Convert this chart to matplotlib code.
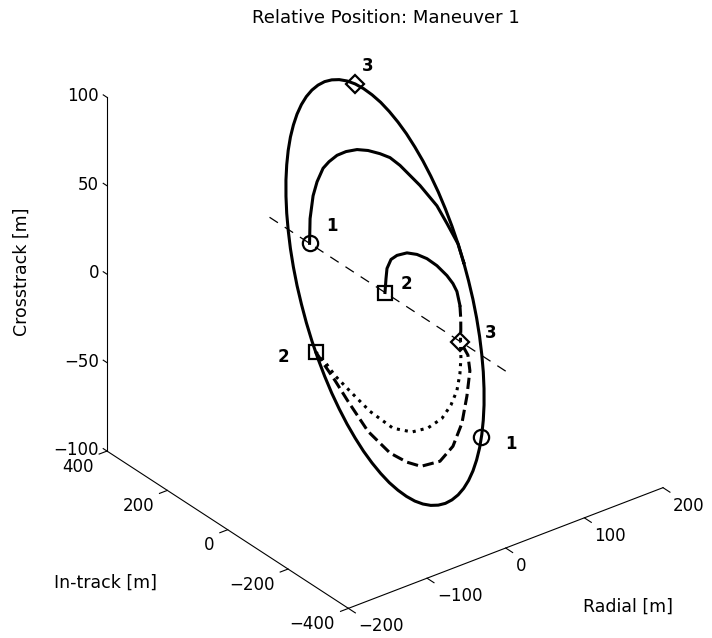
import numpy as np
import matplotlib
matplotlib.use("Agg")
import matplotlib.pyplot as plt
from mpl_toolkits.mplot3d import proj3d

plt.rcParams["font.family"] = ["DejaVu Sans"]

W_PX, H_PX = 712, 638

# ---- axes ----
x_ticks = [-200, -100, 0, 100, 200]
y_ticks = [-400, -200, 0, 200, 400]
z_ticks = [-100, -50, 0, 50, 100]

# ---- natural-motion ellipse around the target [m] ----
orbit_x = [100, 99.6, 98.5, 96.6, 94.0, 90.6, 86.6, 81.9, 76.6, 70.7, 64.3, 57.4, 50.0,
           42.3, 34.2, 25.9, 17.4, 8.7, 0, -8.7, -17.4, -25.9, -34.2, -42.3, -50.0, -57.4,
           -64.3, -70.7, -76.6, -81.9, -86.6, -90.6, -94.0, -96.6, -98.5, -99.6, -100,
           -99.6, -98.5, -96.6, -94.0, -90.6, -86.6, -81.9, -76.6, -70.7, -64.3, -57.4,
           -50.0, -42.3, -34.2, -25.9, -17.4, -8.7, 0, 8.7, 17.4, 25.9, 34.2, 42.3, 50.0,
           57.4, 64.3, 70.7, 76.6, 81.9, 86.6, 90.6, 94.0, 96.6, 98.5, 99.6, 100]
orbit_y = [0, -17.4, -34.7, -51.8, -68.4, -84.5, -100, -114.7, -128.6, -141.4, -153.2,
           -163.8, -173.2, -181.3, -187.9, -193.2, -197.0, -199.2, -200, -199.2, -197.0,
           -193.2, -187.9, -181.3, -173.2, -163.8, -153.2, -141.4, -128.6, -114.7, -100,
           -84.5, -68.4, -51.8, -34.7, -17.4, 0, 17.4, 34.7, 51.8, 68.4, 84.5, 100, 114.7,
           128.6, 141.4, 153.2, 163.8, 173.2, 181.3, 187.9, 193.2, 197.0, 199.2, 200, 199.2,
           197.0, 193.2, 187.9, 181.3, 173.2, 163.8, 153.2, 141.4, 128.6, 114.7, 100, 84.5,
           68.4, 51.8, 34.7, 17.4, 0]
orbit_z = [0, -8.5, -16.8, -25.1, -33.2, -41.0, -48.5, -55.6, -62.4, -68.6, -74.3, -79.5,
           -84.0, -87.9, -91.2, -93.7, -95.5, -96.6, -97.0, -96.6, -95.5, -93.7, -91.2,
           -87.9, -84.0, -79.5, -74.3, -68.6, -62.4, -55.6, -48.5, -41.0, -33.2, -25.1,
           -16.8, -8.5, 0, 8.5, 16.8, 25.1, 33.2, 41.0, 48.5, 55.6, 62.4, 68.6, 74.3, 79.5,
           84.0, 87.9, 91.2, 93.7, 95.5, 96.6, 97.0, 96.6, 95.5, 93.7, 91.2, 87.9, 84.0,
           79.5, 74.3, 68.6, 62.4, 55.6, 48.5, 41.0, 33.2, 25.1, 16.8, 8.5, 0]

# ---- transfer from the aft V-bar point onto the ellipse ----
join_x = [0, 5.1, 11.5, 16.9, 23.5, 28.8, 35.4, 42.2, 50.0, 57.2, 64.6, 70.6, 75.8,
          85.4, 92.9, 96.2, 99.6, 100]
join_y = [250, 261.6, 268.3, 269.2, 266.5, 260.5, 251.2, 239.1, 223.0, 205.4, 185.0,
          167.4, 147.9, 106.7, 70.1, 45.6, 17.4, 0]
join_z = [0, 11.8, 22.9, 29.8, 36.6, 40.1, 43.6, 45.9, 47.5, 47.7, 46.9, 45.6, 42.5,
          34.1, 25.4, 17.6, 8.5, 0]

# ---- hop from the target to the forward V-bar point ----
hop_x = [0, 0, 0, 0, 0, 0, 0, 0, 0, 0, 0, 0, 0]
hop_y = [0, -3.3, -6.6, -19.9, -39.7, -72.8, -105.9, -139.0, -172.1, -205.2, -225.1,
         -238.3, -248.3]
hop_z = [0, 8.2, 14.3, 20.9, 25.4, 30.5, 33.3, 34.6, 34.3, 32.4, 30.1, 27.1, 20.3]
hop_end_x = [0, 0, 0, 0]
hop_end_y = [-248.3, -251.0, -251.2, -250]
hop_end_z = [20.3, 13.2, 7.1, 0]

# ---- two transfers from the ellipse to the forward V-bar point ----
dash_x = [-99.0, -96.2, -90.6, -85.3, -76.8, -65.6, -55.7, -47.0, -33.4, -22.2, -12.4,
          -4.6, 1.6, 2.8, 0]
dash_y = [-27.8, -42.3, -70.7, -99.9, -143.9, -187.6, -218.0, -241.7, -269.2, -283.0,
          -287.2, -283.4, -277.2, -267.4, -250]
dash_z = [-13.5, -17.9, -26.5, -35.9, -49.4, -58.7, -62.2, -63.4, -59.8, -51.7, -39.9,
          -26.3, -13.7, -6.1, 0]

dot_x = [-99.0, -94.3, -89.8, -82.3, -72.2, -59.5, -47.4, -36.0, -25.0, -16.8, -10.4,
         -5.6, -2.4, 0]
dot_y = [-27.8, -47.2, -68.6, -98.6, -138.5, -181.6, -213.0, -236.1, -253.9, -262.3,
         -265.4, -262.9, -257.9, -250]
dot_z = [-13.5, -18.0, -24.1, -30.8, -39.5, -46.4, -47.1, -44.2, -38.7, -31.6, -24.2,
         -15.7, -8.1, 0]

# ---- V-bar (in-track axis through the target) ----
vbar_x = [0, 0]
vbar_y = [-400, 400]
vbar_z = [0, 0]

# ---- event markers: 1 = circle, 2 = square, 3 = diamond ----
circle_pts = [(0, 250, 0), (62.9, -155.4, -75.4)]
square_pts = [(0, 0, 0), (-99.0, -27.8, -13.5)]
diamond_pts = [(0, -250, 0), (34.2, 187.9, 91.2)]
event_labels = ["1", "1", "2", "2", "3", "3"]
label_pos = [(29, 250, 4.9), (101, -155.4, -85.8),
             (27, 0, 0), (-139.6, -27.8, -9.4),
             (38, -250, -1.5), (50.7, 187.9, 98.6)]

# ---------------------------------------------------------------------------
fig = plt.figure(figsize=(W_PX / 100, H_PX / 100), dpi=100)
ax = fig.add_axes([0, 0, 1, 1], projection="3d")
ax.set_proj_type("ortho")
ax.view_init(elev=30, azim=-127.5)
ax.set_xlim(-200, 200)
ax.set_ylim(-400, 400)
ax.set_zlim(-100, 100)
BOX = (1, 1, 1.03)
ax.set_box_aspect(BOX)
ax.set_axis_off()
ax.computed_zorder = False


def to_pixels(p):
    xs, ys, _ = proj3d.proj_transform(p[0], p[1], p[2], ax.get_proj())
    dx, dy = ax.transData.transform((xs, ys))
    return np.array([dx, H_PX - dy])


# scale and place the box so the axis frame sits where it should
fig.canvas.draw()
c1 = to_pixels((-200, 400, -100))
c3 = to_pixels((200, -400, -100))
ax.set_box_aspect(BOX, zoom=556.0 / (c3[0] - c1[0]))
fig.canvas.draw()
o = to_pixels((0, 0, 0))
pos = ax.get_position(original=True)
ax.set_position([pos.x0 + (385 - o[0]) / W_PX, pos.y0 - (292.5 - o[1]) / H_PX,
                 pos.width, pos.height])
fig.canvas.draw()


def text_at(p, s, **kw):
    """Place a 2D text at the projected position of a 3D point."""
    u, v = to_pixels(p)
    return fig.text(u / W_PX, 1 - v / H_PX, s, **kw)


K = "black"
AX_LW = 0.8
common = dict(color=K, clip_on=False)

# axis frame
ax.plot([-200, -200], [400, 400], [-100, 100], lw=AX_LW, **common)
ax.plot([-200, -200], [400, -400], [-100, -100], lw=AX_LW, **common)
ax.plot([-200, 200], [-400, -400], [-100, -100], lw=AX_LW, **common)


def fmt(v):
    return str(v) if v >= 0 else "\u2212" + str(-v)


TICK_FS = 12
for zt in z_ticks:
    ax.plot([-200, -200], [400, 412.5], [zt, zt], lw=AX_LW, **common)
    text_at((-205, 413, zt), fmt(zt), ha="right", va="center", fontsize=TICK_FS)
for yt in y_ticks:
    ax.plot([-200, -210], [yt, yt], [-100, -100], lw=AX_LW, **common)
    text_at((-217, yt, -106), fmt(yt), ha="right", va="center", fontsize=TICK_FS)
for xt in x_ticks:
    ax.plot([xt, xt], [-400, -423], [-100, -100], lw=AX_LW, **common)
    text_at((xt, -433, -106.5), fmt(xt), ha="left", va="center", fontsize=TICK_FS)

# trajectories
LW = 2.2
ax.plot(vbar_x, vbar_y, vbar_z, lw=0.9, linestyle=(0, (8, 6.5)), zorder=1, **common)
ax.plot(orbit_x, orbit_y, orbit_z, lw=LW, zorder=2, **common)
ax.plot(join_x, join_y, join_z, lw=LW, zorder=2, **common)
ax.plot(hop_x, hop_y, hop_z, lw=LW, zorder=2, **common)
ax.plot(hop_end_x, hop_end_y, hop_end_z, lw=LW, linestyle="--", zorder=2, **common)
ax.plot(dash_x, dash_y, dash_z, lw=LW, linestyle="--", zorder=2, **common)
ax.plot(dot_x, dot_y, dot_z, lw=LW, linestyle=":", zorder=2, **common)

mk = dict(linestyle="none", mfc="none", mec=K, mew=1.6, zorder=3, clip_on=False)
for (px, py, pz) in circle_pts:
    ax.plot([px], [py], [pz], marker="o", ms=11, **mk)
for (px, py, pz) in square_pts:
    ax.plot([px], [py], [pz], marker="s", ms=10, **mk)
for (px, py, pz) in diamond_pts:
    ax.plot([px], [py], [pz], marker="D", ms=9, **mk)

for s, p in zip(event_labels, label_pos):
    text_at(p, s, ha="center", va="center", fontsize=12, fontweight="bold")

# title and axis names
fig.text(386 / W_PX, 1 - 18 / H_PX, "Relative Position: Maneuver 1",
         ha="center", va="center", fontsize=13)
fig.text(628 / W_PX, 1 - 607 / H_PX, "Radial [m]", ha="center", va="center",
         fontsize=12.5)
fig.text(105 / W_PX, 1 - 583 / H_PX, "In-track [m]", ha="center", va="center",
         fontsize=12.5)
fig.text(22 / W_PX, 1 - 272 / H_PX, "Crosstrack [m]", rotation=90,
         ha="center", va="center", fontsize=12.5)

fig.savefig("out.png", dpi=100, facecolor="white")
